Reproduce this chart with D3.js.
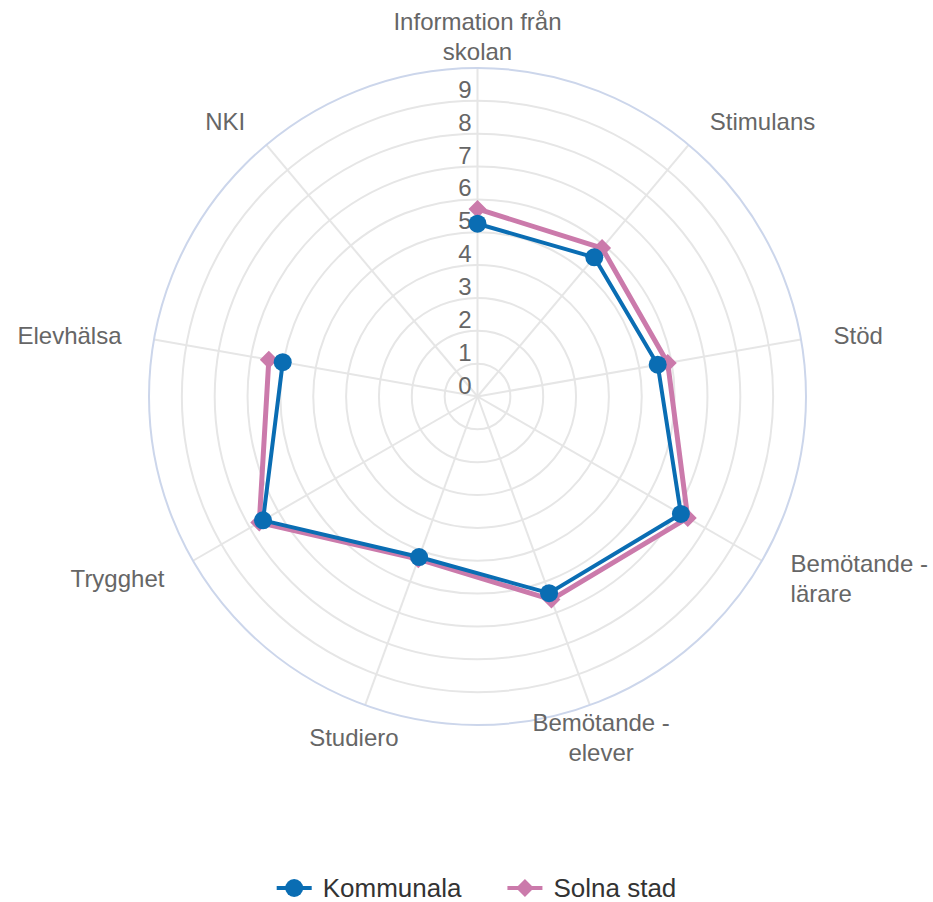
<!DOCTYPE html>
<html>
<head>
<meta charset="utf-8">
<script src="https://cdn.jsdelivr.net/npm/d3@7"></script>
<style>
  body { margin: 0; background: #fff; }
  text { font-family: "Liberation Sans", Arial, sans-serif; }
</style>
</head>
<body>
<div id="chart"></div>
<script>
// categories clockwise from top
var categories = [
  ["Information från", "skolan"],
  ["Stimulans"],
  ["Stöd"],
  ["Bemötande -", "lärare"],
  ["Bemötande -", "elever"],
  ["Studiero"],
  ["Trygghet"],
  ["Elevhälsa"],
  ["NKI"]
];
var kommunala = [5.26, 5.53, 5.57, 7.15, 6.37, 5.20, 7.54, 6.02, null];
var solna     = [5.71, 5.90, 5.88, 7.39, 6.58, 5.27, 7.67, 6.45, null];
var ticks = [0, 1, 2, 3, 4, 5, 6, 7, 8, 9];
var series = [
  {name: "Kommunala", values: kommunala, color: "#0a6db3", marker: "circle"},
  {name: "Solna stad", values: solna, color: "#cb7aab", marker: "diamond"}
];

var width = 933, height = 902;
var cx = 477.5, cy = 396.5, R = 328.5;

var svg = d3.select("#chart").append("svg")
  .attr("width", width)
  .attr("height", height);

var r = d3.scaleLinear().domain([0, 10]).range([0, R]);
var angle = d3.scaleLinear().domain([0, categories.length]).range([0, 2 * Math.PI]);

var g = svg.append("g").attr("transform", `translate(${cx},${cy})`);

// grid circles
g.selectAll(".grid")
  .data(d3.range(1, 10))
  .enter().append("circle")
  .attr("r", d => r(d))
  .attr("fill", "none")
  .attr("stroke", "#e6e6e6")
  .attr("stroke-width", 2);

// spokes
g.selectAll(".spoke")
  .data(categories)
  .enter().append("line")
  .attr("x1", 0).attr("y1", 0)
  .attr("x2", (d, i) => Math.sin(angle(i)) * R)
  .attr("y2", (d, i) => -Math.cos(angle(i)) * R)
  .attr("stroke", "#e6e6e6")
  .attr("stroke-width", 2);

// outer ring
g.append("circle")
  .attr("r", R)
  .attr("fill", "none")
  .attr("stroke", "#ccd6eb")
  .attr("stroke-width", 2);

// radial tick labels
g.selectAll(".tick")
  .data(ticks)
  .enter().append("text")
  .attr("x", -6)
  .attr("y", d => -r(d) - 3)
  .attr("text-anchor", "end")
  .style("font-size", "24px")
  .style("fill", "#666")
  .text(d => d);

// category labels
var labelR = R + 33;
categories.forEach(function(lines, i) {
  var a = angle(i);
  var s = Math.sin(a);
  var x = s * labelR, y = -Math.cos(a) * labelR;
  var anchor = Math.abs(s) < 0.4 ? "middle" : (s > 0 ? "start" : "end");
  var lh = 30;
  var t = g.append("text")
    .attr("text-anchor", anchor)
    .style("font-size", "24px")
    .style("fill", "#666");
  lines.forEach(function(line, j) {
    t.append("tspan")
      .attr("x", x)
      .attr("y", y + (j - (lines.length - 1) / 2) * lh + 10)
      .text(line);
  });
});

function px(v, i) { return Math.sin(angle(i)) * r(v); }
function py(v, i) { return -Math.cos(angle(i)) * r(v); }

var line = d3.line()
  .defined(d => d != null)
  .x((d, i) => px(d, i))
  .y((d, i) => py(d, i));

function drawMarker(sel, type, color) {
  if (type === "circle") {
    sel.append("circle").attr("r", 9).attr("fill", color);
  } else {
    sel.append("path").attr("d", "M0,-9L9,0L0,9L-9,0Z").attr("fill", color);
  }
}

// draw Solna first so Kommunala is on top
series.slice().reverse().forEach(function(s) {
  g.append("path")
    .datum(s.values)
    .attr("d", line)
    .attr("fill", "none")
    .attr("stroke", s.color)
    .attr("stroke-width", s.marker === "circle" ? 4 : 5)
    .attr("stroke-linejoin", "round");
  s.values.forEach(function(v, i) {
    if (v == null) return;
    var m = g.append("g").attr("transform", `translate(${px(v, i)},${py(v, i)})`);
    drawMarker(m, s.marker, s.color);
  });
});

// legend
var legend = svg.append("g");
var lx = 0;
series.forEach(function(s, i) {
  var item = legend.append("g").attr("transform", `translate(${lx},0)`);
  item.append("line")
    .attr("x1", 0).attr("x2", 35)
    .attr("y1", 0).attr("y2", 0)
    .attr("stroke", s.color)
    .attr("stroke-width", 4);
  drawMarker(item.append("g").attr("transform", "translate(17.5,0)"), s.marker, s.color);
  var t = item.append("text")
    .attr("x", 46)
    .attr("y", 9)
    .style("font-size", "26px")
    .style("fill", "#333")
    .text(s.name);
  lx += 46 + t.node().getComputedTextLength() + 46;
});
var lw = lx - 46;
legend.attr("transform", `translate(${(width - lw) / 2 + 10},888)`);
</script>
</body>
</html>
